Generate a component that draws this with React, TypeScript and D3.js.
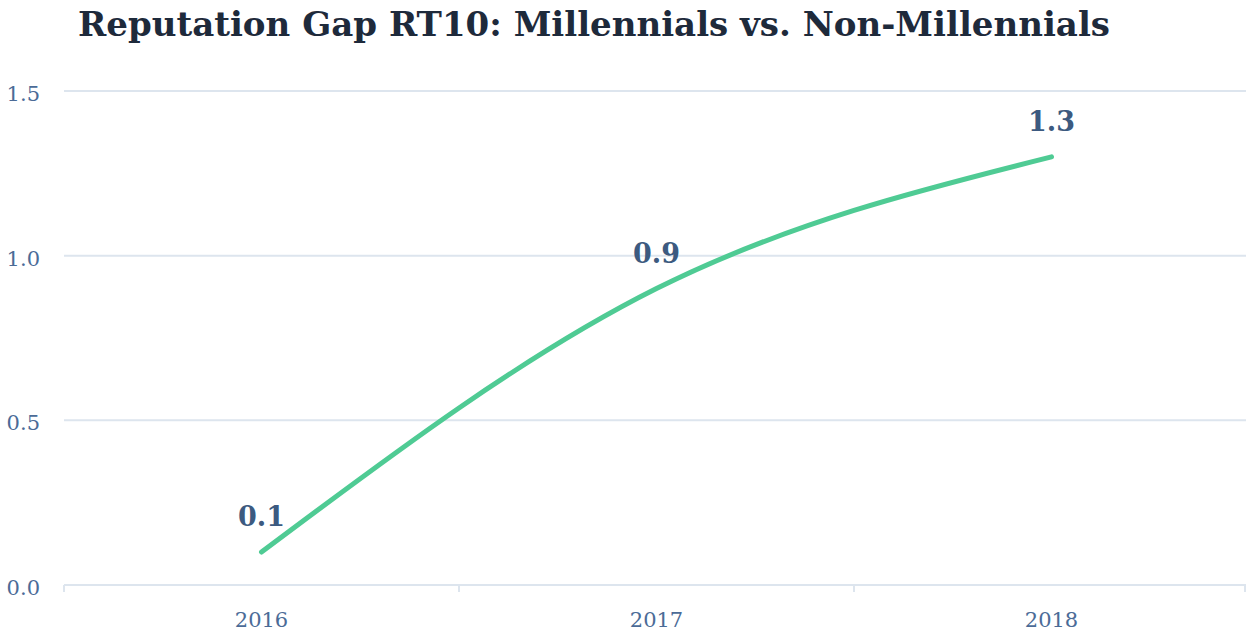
import React, { useEffect, useRef } from "react"
import * as d3 from "d3"

const years = ["2016", "2017", "2018"]
const gapValues = [0.1, 0.9, 1.3]
const yTicks = [0, 0.5, 1.0, 1.5]

const width = 1246
const height = 632
const margin = { left: 64, right: 0, top: 91, bottom: 47 }
const font = "'DejaVu Serif', Georgia, serif"

export default function App() {
  const ref = useRef<SVGSVGElement>(null)

  useEffect(() => {
    document.body.style.margin = "0"
    document.body.style.overflow = "hidden"
    const svg = d3.select(ref.current)
    svg.selectAll("*").remove()

    const x = d3.scaleBand().domain(years).range([margin.left, margin.left + 395 * 3])
    const y = d3.scaleLinear().domain([0, 1.5]).range([height - margin.bottom, margin.top])

    svg.append("text").attr("x", 78).attr("y", 36).text("Reputation Gap RT10: Millennials vs. Non-Millennials")
      .attr("font-family", font).attr("font-weight", "bold").attr("font-size", 34).attr("fill", "#1e2a3b")
      .attr("textLength", 1032).attr("lengthAdjust", "spacingAndGlyphs")

    // grid
    svg.append("g").selectAll("line").data(yTicks).join("line")
      .attr("x1", margin.left).attr("x2", width).attr("y1", d => y(d)).attr("y2", d => y(d))
      .attr("stroke", "#dde5ee").attr("stroke-width", 2)

    svg.append("g").selectAll("text").data(yTicks).join("text")
      .attr("x", 40).attr("y", d => y(d) + 10).attr("text-anchor", "end")
      .text(d => d3.format(".1f")(d))
      .attr("font-family", font).attr("font-size", 21).attr("fill", "#4b6b97")

    // x axis ticks at band edges
    const edges = years.map(d => x(d) as number).concat([width - 1])
    svg.append("g").selectAll("line").data(edges).join("line")
      .attr("x1", d => d).attr("x2", d => d).attr("y1", y(0)).attr("y2", y(0) + 7)
      .attr("stroke", "#dde5ee").attr("stroke-width", 2)

    svg.append("g").selectAll("text").data(years).join("text")
      .attr("x", d => (x(d) as number) + x.bandwidth() / 2).attr("y", 627).attr("text-anchor", "middle")
      .text(d => d).attr("font-family", font).attr("font-size", 21).attr("fill", "#4b6b97")

    const pts = years.map((d, i) => [(x(d) as number) + x.bandwidth() / 2, y(gapValues[i])] as [number, number])
    const line = d3.line().curve(d3.curveMonotoneX)
    svg.append("path").attr("d", line(pts)).attr("fill", "none").attr("stroke", "#4fcb94")
      .attr("stroke-width", 5).attr("stroke-linecap", "round")

    svg.append("g").selectAll("text").data(gapValues).join("text")
      .attr("x", (d, i) => pts[i][0]).attr("y", (d, i) => pts[i][1] - 26).attr("text-anchor", "middle")
      .text(d => d3.format(".1f")(d))
      .attr("font-family", font).attr("font-weight", "bold").attr("font-size", 27).attr("fill", "#3c5a80")
  }, [])

  return <svg ref={ref} width={width} height={height} style={{ display: "block", position: "absolute", left: 0, top: 0 }} />
}
